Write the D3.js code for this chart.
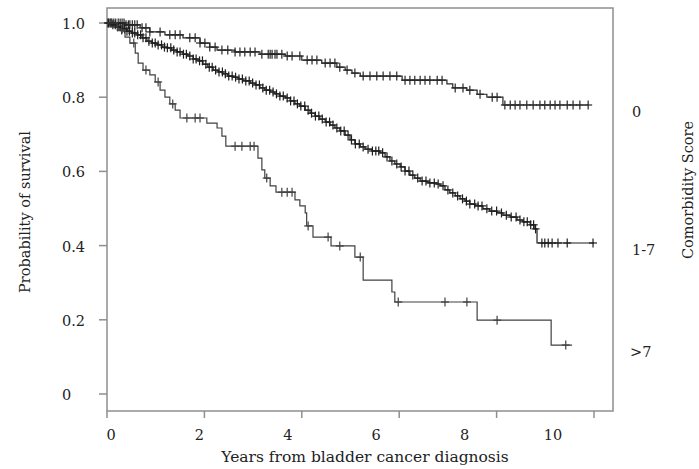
<!DOCTYPE html>
<html>
<head>
<meta charset="utf-8">
<script src="https://cdn.jsdelivr.net/npm/d3@7/dist/d3.min.js"></script>
<style>
  body { margin: 0; background: #fff; }
  text { font-family: "DejaVu Serif", serif; fill: #222; }
</style>
</head>
<body>
<div id="chart"></div>
<script>
// ---- data (years, survival probability) ----
var groups = ["0", "1-7", ">7"];

// Comorbidity 0
var t0 = [0, 0.37, 0.68, 0.88, 1.19, 1.56, 1.91, 2.11, 2.26, 2.63, 3.14, 3.66, 4.00, 4.41, 4.72, 4.89, 5.03, 5.20, 6.06, 6.98, 7.10, 7.39, 7.60, 7.80, 8.13];
var s0 = [1, 0.995, 0.987, 0.976, 0.968, 0.960, 0.946, 0.935, 0.927, 0.922, 0.916, 0.911, 0.900, 0.892, 0.881, 0.873, 0.865, 0.857, 0.846, 0.836, 0.825, 0.819, 0.808, 0.800, 0.779];
var end0 = 9.88;
var c0 = [0.02, 0.06, 0.1, 0.14, 0.18, 0.23, 0.27, 0.31, 0.35, 0.39, 0.44, 0.47, 0.52, 0.57, 0.62, 0.72, 0.8, 0.88, 1.09, 1.29, 1.40, 1.50, 1.70, 1.81, 1.91, 2.01, 2.11, 2.22, 2.36, 2.48, 2.63, 2.73, 2.83, 2.94, 3.04, 3.18,
          3.31, 3.35, 3.39, 3.45, 3.49, 3.59, 3.70, 3.80, 3.96, 4.11, 4.21, 4.31, 4.48, 4.58, 4.68, 4.78, 4.93, 5.09,
          5.26, 5.40, 5.54, 5.67, 5.81, 5.95, 6.12, 6.22, 6.32, 6.43, 6.53, 6.63, 6.78, 6.88, 7.15, 7.31, 7.45, 7.66, 7.91, 8.01,
          8.17, 8.28, 8.38, 8.48, 8.62, 8.75, 8.89, 8.99, 9.10, 9.20, 9.30, 9.45, 9.57, 9.71, 9.88];

// Comorbidity 1-7
var t1 = [0, 0.10, 0.21, 0.31, 0.41, 0.51, 0.62, 0.72, 0.82, 0.92, 1.03, 1.13, 1.23, 1.33, 1.44, 1.56, 1.66, 1.77, 1.87, 1.97,
          2.07, 2.18, 2.28, 2.38, 2.48, 2.59, 2.69, 2.79, 2.94, 3.04, 3.14, 3.24, 3.35, 3.45, 3.55, 3.66, 3.76, 3.86, 3.96,
          4.07, 4.17, 4.27, 4.37, 4.48, 4.58, 4.68, 4.78, 4.89, 4.99, 5.09, 5.20, 5.30, 5.44, 5.61, 5.71, 5.81, 5.91,
          6.02, 6.12, 6.22, 6.32, 6.43, 6.59, 6.76, 6.84, 6.94, 7.04, 7.15, 7.25, 7.35, 7.45, 7.56, 7.72, 7.86,
          8.01, 8.13, 8.28, 8.42, 8.54, 8.69, 8.77, 8.83];
var s1 = [1, 0.995, 0.989, 0.984, 0.978, 0.973, 0.968, 0.960, 0.951, 0.946, 0.941, 0.935, 0.933, 0.927, 0.922, 0.916, 0.911, 0.903, 0.898, 0.889,
          0.881, 0.873, 0.868, 0.863, 0.857, 0.854, 0.849, 0.844, 0.838, 0.833, 0.825, 0.819, 0.814, 0.809, 0.803, 0.798, 0.790, 0.782, 0.776,
          0.765, 0.757, 0.749, 0.741, 0.733, 0.725, 0.717, 0.709, 0.698, 0.685, 0.674, 0.666, 0.660, 0.655, 0.650, 0.639, 0.628, 0.620,
          0.612, 0.601, 0.590, 0.582, 0.574, 0.569, 0.566, 0.561, 0.550, 0.542, 0.534, 0.526, 0.520, 0.512, 0.507, 0.499, 0.493,
          0.488, 0.482, 0.477, 0.469, 0.464, 0.456, 0.445, 0.407];
var end1 = 10.0;
var c1 = [0.03, 0.08, 0.12, 0.17, 0.22, 0.27, 0.31, 0.36, 0.41, 0.46, 0.52, 0.57, 0.63, 0.69, 0.74, 0.8, 0.86, 0.93, 0.99,
          1.05, 1.12, 1.18, 1.24, 1.31, 1.37, 1.44, 1.5, 1.57, 1.63, 1.7, 1.77, 1.83, 1.9, 1.96,
          2.03, 2.1, 2.16, 2.23, 2.3, 2.37, 2.43, 2.5, 2.57, 2.64, 2.71, 2.78, 2.85, 2.92, 2.99,
          3.06, 3.13, 3.2, 3.27, 3.34, 3.41, 3.48, 3.55, 3.62, 3.7, 3.77, 3.84, 3.91, 3.98,
          4.06, 4.13, 4.2, 4.28, 4.35, 4.42, 4.5, 4.57, 4.64, 4.72, 4.8, 4.87, 4.95,
          5.02, 5.1, 5.18, 5.26, 5.36, 5.45, 5.52, 5.58, 5.66, 5.75, 5.85, 5.95,
          6.04, 6.12, 6.2, 6.28, 6.38, 6.47, 6.55, 6.63, 6.72, 6.8, 6.9, 7.0, 7.1, 7.2, 7.3, 7.38, 7.45, 7.55, 7.62, 7.7, 7.8, 7.9,
          8.0, 8.1, 8.2, 8.3, 8.4, 8.48, 8.56, 8.63, 8.7, 8.76, 8.8,
          8.93, 8.99, 9.06, 9.14, 9.26, 9.45, 9.98];

// Comorbidity >7
var t2 = [0, 0.21, 0.37, 0.47, 0.58, 0.64, 0.74, 0.88, 0.99, 1.09, 1.19, 1.29, 1.40, 1.50, 2.05, 2.26, 2.36, 2.44, 3.10, 3.18, 3.24, 3.35, 3.47, 3.86, 3.96, 4.07, 4.10, 4.23, 4.60, 5.09, 5.26, 5.85, 5.91, 7.60, 9.12];
var s2 = [1, 0.981, 0.962, 0.946, 0.919, 0.892, 0.873, 0.860, 0.841, 0.819, 0.800, 0.782, 0.765, 0.744, 0.730, 0.717, 0.695, 0.668, 0.636, 0.604, 0.582, 0.561, 0.544, 0.523, 0.507, 0.488, 0.453, 0.423, 0.399, 0.369, 0.307, 0.275, 0.248, 0.199, 0.132];
var end2 = 9.55;
var c2 = [0.30, 0.55, 0.80, 1.05, 1.35, 1.64, 1.81, 1.91, 2.63, 2.77, 2.94, 3.02, 3.28, 3.59, 3.70, 3.80, 4.13, 4.54, 4.78, 5.20, 5.98, 6.94, 7.39, 8.01, 9.42];

var xTicks = [0, 2, 4, 6, 8, 10];
var yTicks = [0, 0.2, 0.4, 0.6, 0.8, 1.0];
var yTickLabels = ["0", "0.2", "0.4", "0.6", "0.8", "1.0"];

var series = [
  {name: groups[0], t: t0, s: s0, end: end0, cens: c0, color: "#262626"},
  {name: groups[1], t: t1, s: s1, end: end1, cens: c1, color: "#1e1e1e"},
  {name: groups[2], t: t2, s: s2, end: end2, cens: c2, color: "#404040"}
];

// ---- layout ----
var width = 699, height = 469;
var plotLeft = 107, plotRight = 613, plotTop = 8, plotBottom = 411;

var svg = d3.select("#chart").append("svg")
    .attr("width", width)
    .attr("height", height);

var x = d3.scaleLinear().domain([0, 10]).range([107, 594]);
// the printed tick numbers sit on a slightly narrower spacing than the tick marks
var xLab = d3.scaleLinear().domain([0, 10]).range([111, 553]);
var y = d3.scaleLinear().domain([0, 1]).range([394, 23]);

var axisColor = "#8f8f8f";

// frame
svg.append("rect")
    .attr("x", plotLeft).attr("y", plotTop)
    .attr("width", plotRight - plotLeft).attr("height", plotBottom - plotTop)
    .attr("fill", "none")
    .attr("stroke", axisColor)
    .attr("stroke-width", 1.5);

// x ticks
svg.append("g")
    .selectAll("line").data(xTicks).join("line")
    .attr("x1", d => x(d)).attr("x2", d => x(d))
    .attr("y1", plotBottom).attr("y2", plotBottom + 7)
    .attr("stroke", axisColor).attr("stroke-width", 1.5);

svg.append("g")
    .selectAll("text").data(xTicks).join("text")
    .attr("x", d => xLab(d)).attr("y", 440)
    .attr("text-anchor", "middle")
    .style("font-size", "14.5px")
    .text(d => d);

// y ticks
svg.append("g")
    .selectAll("line").data(yTicks).join("line")
    .attr("x1", plotLeft - 8).attr("x2", plotLeft)
    .attr("y1", d => y(d)).attr("y2", d => y(d))
    .attr("stroke", axisColor).attr("stroke-width", 1.5);

svg.append("g")
    .selectAll("text").data(yTicks).join("text")
    .attr("x", 62).attr("y", d => y(d) + 6)
    .style("font-size", "14.5px")
    .text((d, i) => yTickLabels[i]);

// axis titles
svg.append("text")
    .attr("x", 365).attr("y", 462)
    .attr("text-anchor", "middle")
    .style("font-size", "15.5px")
    .text("Years from bladder cancer diagnosis");

svg.append("text")
    .attr("transform", "translate(30,212) rotate(-90)")
    .attr("text-anchor", "middle")
    .style("font-size", "14.5px")
    .text("Probability of survival");

svg.append("text")
    .attr("transform", "translate(693,190) rotate(-90)")
    .attr("text-anchor", "middle")
    .style("font-size", "14.5px")
    .text("Comorbidity Score");

// ---- curves ----
var line = d3.line()
    .x(d => x(d[0]))
    .y(d => y(d[1]))
    .curve(d3.curveStepAfter);

series.forEach(function(sr) {
  var pts = sr.t.map((t, i) => [t, sr.s[i]]);
  pts.push([sr.end, sr.s[sr.s.length - 1]]);

  svg.append("path")
    .datum(pts)
    .attr("fill", "none")
    .attr("stroke", sr.color)
    .attr("stroke-width", 1.2)
    .attr("d", line);

  // censoring marks
  var bis = d3.bisector(d => d).right;
  var survAt = function(t) {
    var i = bis(sr.t, t) - 1;
    return sr.s[Math.max(0, i)];
  };

  var g = svg.append("g").attr("stroke", sr.color).attr("stroke-width", 1.2);
  g.selectAll("line.v").data(sr.cens).join("line")
    .attr("class", "v")
    .attr("x1", d => x(d)).attr("x2", d => x(d))
    .attr("y1", d => y(survAt(d)) - 4.5).attr("y2", d => y(survAt(d)) + 4.5);
  g.selectAll("line.h").data(sr.cens).join("line")
    .attr("class", "h")
    .attr("x1", d => x(d) - 4).attr("x2", d => x(d) + 4)
    .attr("y1", d => y(survAt(d))).attr("y2", d => y(survAt(d)));

  // group label at the right
  svg.append("text")
    .attr("x", sr.name === ">7" ? 630 : 632)
    .attr("y", y(sr.s[sr.s.length - 1]) + 12)
    .style("font-size", "14.5px")
    .text(sr.name);
});
</script>
</body>
</html>
